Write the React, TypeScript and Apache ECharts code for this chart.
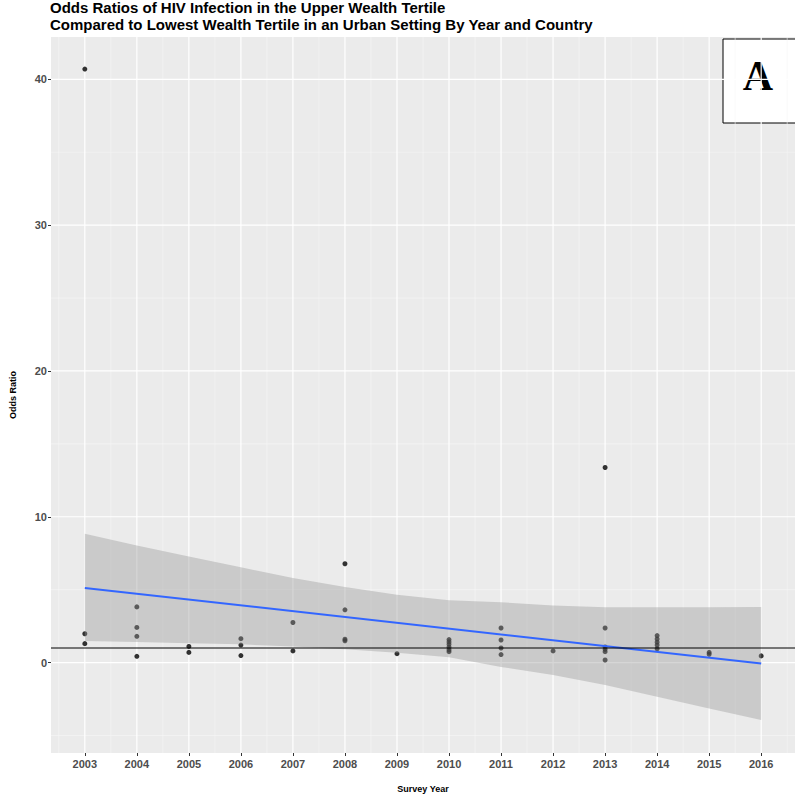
import React, { useEffect, useRef } from "react";
import * as echarts from "echarts";

// Survey years on the x axis
const years = [2003, 2004, 2005, 2006, 2007, 2008, 2009, 2010, 2011, 2012, 2013, 2014, 2015, 2016];

// Confidence band of the linear fit, one value per survey year
const ribbonUpper = [8.83, 8.03, 7.28, 6.53, 5.8, 5.19, 4.66, 4.28, 4.14, 3.91, 3.8, 3.8, 3.8, 3.82];
const ribbonLower = [1.48, 1.41, 1.33, 1.25, 1.1, 0.92, 0.68, 0.36, -0.3, -0.85, -1.54, -2.34, -3.14, -3.94];

// Fitted regression line end points
const fitYears = [2003, 2016];
const fitValues = [5.12, -0.07];

// Country-level odds ratios by survey year
const pointYears = [
  2003, 2003, 2003,
  2004, 2004, 2004, 2004,
  2005, 2005,
  2006, 2006, 2006,
  2007, 2007,
  2008, 2008, 2008, 2008,
  2009,
  2010, 2010, 2010, 2010, 2010, 2010,
  2011, 2011, 2011, 2011,
  2012,
  2013, 2013, 2013, 2013, 2013, 2013,
  2014, 2014, 2014, 2014, 2014,
  2015, 2015,
  2016,
];
const pointOdds = [
  40.7, 1.98, 1.3,
  3.82, 2.41, 1.8, 0.43,
  1.11, 0.7,
  1.64, 1.2, 0.48,
  2.75, 0.8,
  6.78, 3.62, 1.6, 1.5,
  0.61,
  1.58, 1.42, 1.25, 1.05, 0.88, 0.75,
  2.37, 1.55, 1.0, 0.55,
  0.8,
  13.38, 2.37, 1.07, 0.91, 0.75, 0.18,
  1.85, 1.62, 1.4, 1.2, 0.95,
  0.7, 0.57,
  0.46,
];

// Reference odds ratio (no difference)
const referenceOdds = 1;

// Title lines
const titleLines = [
  "Odds Ratios of HIV Infection in the Upper Wealth Tertile",
  "Compared to Lowest Wealth Tertile in an Urban Setting By Year and Country",
];

// Axis ticks and grid
const yMajor = [0, 10, 20, 30, 40];
const yMinor = [-5, 5, 15, 25, 35];
const xMinor = [2002.5, 2003.5, 2004.5, 2005.5, 2006.5, 2007.5, 2008.5, 2009.5, 2010.5, 2011.5, 2012.5, 2013.5, 2014.5, 2015.5, 2016.5];

const X_MIN = 2002.35;
const X_MAX = 2016.65;
const Y_MIN = -6.2;
const Y_MAX = 42.9;

const FONT = "'Liberation Sans', Arial, Helvetica, sans-serif";

export default function App() {
  const ref = useRef<HTMLDivElement>(null);

  useEffect(() => {
    document.body.style.margin = "0";
    if (!ref.current) return;
    const chart = echarts.init(ref.current, null, { renderer: "svg" });

    const option: any = {
      animation: false,
      backgroundColor: "#FFFFFF",
      grid: { left: 50, right: 0, top: 37, bottom: 42, backgroundColor: "#EBEBEB", show: true, borderWidth: 0 },
      xAxis: {
        type: "value",
        min: X_MIN,
        max: X_MAX,
        name: "Survey Year",
        nameLocation: "middle",
        nameGap: 31,
        nameTextStyle: { fontFamily: FONT, fontWeight: "bold", fontSize: 9, color: "#000000" },
        axisLine: { show: false, onZero: false },
        splitLine: { show: false },
        axisTick: { show: true, length: 3, lineStyle: { color: "#333333", width: 1 }, customValues: years },
        axisLabel: {
          customValues: years,
          formatter: (v: number) => String(Math.round(v)),
          fontFamily: FONT,
          fontWeight: "bold",
          fontSize: 11,
          color: "#4D4D4D",
          margin: 5,
        },
      },
      yAxis: {
        type: "value",
        min: Y_MIN,
        max: Y_MAX,
        name: "Odds Ratio",
        nameLocation: "middle",
        nameGap: 34,
        nameRotate: 90,
        nameTextStyle: { fontFamily: FONT, fontWeight: "bold", fontSize: 9, color: "#000000" },
        axisLine: { show: false, onZero: false },
        splitLine: { show: false },
        axisTick: { show: true, length: 3, lineStyle: { color: "#333333", width: 1 }, customValues: yMajor },
        axisLabel: {
          customValues: yMajor,
          formatter: (v: number) => String(Math.round(v)),
          fontFamily: FONT,
          fontWeight: "bold",
          fontSize: 11,
          color: "#4D4D4D",
          margin: 4,
        },
      },
      series: [
        // panel grid lines, placed through the axis scales
        {
          type: "custom",
          silent: true,
          z: 0,
          data: [[X_MIN, Y_MIN]],
          renderItem: (_params: any, api: any) => {
            const children: any[] = [];
            const hLine = (v: number, w: number, c: string) => {
              const a = api.coord([X_MIN, v]);
              const b = api.coord([X_MAX, v]);
              children.push({ type: "line", shape: { x1: a[0], y1: a[1], x2: b[0], y2: b[1] }, style: { stroke: c, lineWidth: w } });
            };
            const vLine = (v: number, w: number, c: string) => {
              const a = api.coord([v, Y_MIN]);
              const b = api.coord([v, Y_MAX]);
              children.push({ type: "line", shape: { x1: a[0], y1: a[1], x2: b[0], y2: b[1] }, style: { stroke: c, lineWidth: w } });
            };
            yMinor.forEach((v) => hLine(v, 0.6, "#F6F6F6"));
            xMinor.forEach((v) => vLine(v, 0.6, "#F6F6F6"));
            yMajor.forEach((v) => hLine(v, 1.2, "#FFFFFF"));
            years.forEach((v) => vLine(v, 1.2, "#FFFFFF"));
            return { type: "group", children };
          },
        },
        // country points
        {
          type: "scatter",
          data: pointYears.map((y, i) => [y, pointOdds[i]]),
          symbol: "circle",
          symbolSize: 5,
          itemStyle: { color: "#000000" },
          silent: true,
          z: 2,
        },
        // confidence band
        {
          type: "custom",
          silent: true,
          z: 3,
          data: years.map((y, i) => [y, ribbonLower[i], ribbonUpper[i]]),
          encode: { x: 0, y: [1, 2] },
          renderItem: (params: any, api: any) => {
            if (params.dataIndex !== 0) return null;
            const top = years.map((y, i) => api.coord([y, ribbonUpper[i]]));
            const bottom = years.map((y, i) => api.coord([y, ribbonLower[i]])).reverse();
            return {
              type: "polygon",
              shape: { points: [...top, ...bottom] },
              style: { fill: "rgba(153,153,153,0.4)", stroke: "none" },
            };
          },
        },
        // fitted line
        {
          type: "line",
          data: fitYears.map((y, i) => [y, fitValues[i]]),
          symbol: "none",
          lineStyle: { color: "#3366FF", width: 2 },
          silent: true,
          z: 4,
        },
        // reference line at odds ratio 1
        {
          type: "line",
          data: [[X_MIN, referenceOdds], [X_MAX, referenceOdds]],
          symbol: "none",
          lineStyle: { color: "#000000", width: 1 },
          silent: true,
          z: 5,
        },
      ],
      graphic: [
        ...titleLines.map((t, i) => ({
          type: "text",
          left: 50,
          top: 0 + i * 17,
          style: {
            text: t,
            fontFamily: FONT,
            fontWeight: "bold",
            fontSize: 15,
            fill: "#000000",
          },
        })),
        {
          type: "group",
          z: 100,
          children: [
            {
              type: "rect",
              shape: { x: 723, y: 39, width: 110, height: 84 },
              style: { fill: "#FFFFFF", stroke: "#000000", lineWidth: 1 },
            },
            {
              type: "text",
              x: 758,
              y: 76,
              style: {
                text: "A",
                fontFamily: "'Liberation Serif', 'DejaVu Serif', serif",
                fontWeight: "bold",
                fontSize: 42,
                fill: "#000000",
                align: "center",
                verticalAlign: "middle",
              },
            },
          ],
        },
      ],
    };

    chart.setOption(option);
    return () => chart.dispose();
  }, []);

  return <div ref={ref} style={{ width: 795, height: 798 }} />;
}
